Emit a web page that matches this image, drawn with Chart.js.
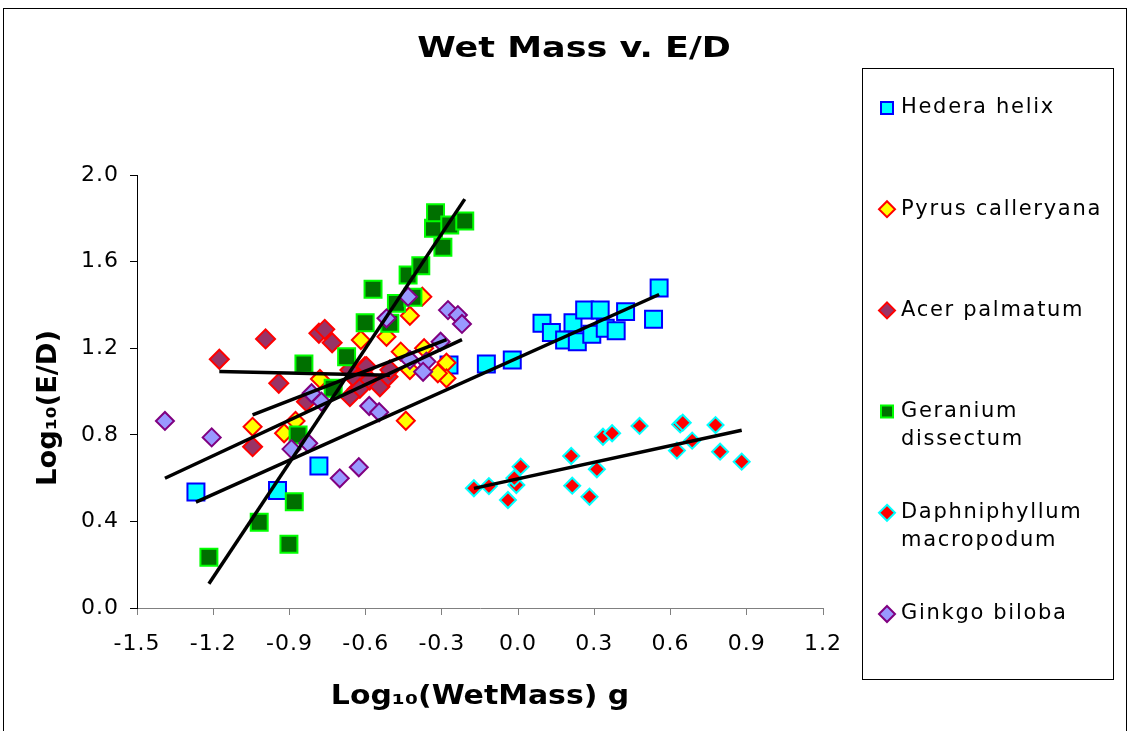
<!DOCTYPE html>
<html>
<head>
<meta charset="utf-8">
<script src="https://cdn.jsdelivr.net/npm/chart.js@4.4.1/dist/chart.umd.min.js"></script>
<style>
  html, body { margin: 0; padding: 0; background: #fff; overflow: hidden; }
  #frame { position: absolute; left: 3px; top: 8px; width: 1124px; height: 740px; border: 1px solid #000; box-sizing: border-box; }
  #c { position: absolute; left: 0; top: 0; }
</style>
</head>
<body>
<div id="frame"></div>
<canvas id="c" width="1134" height="731"></canvas>
<script>
// series names (legend order)
const seriesNames = ['Hedera helix', 'Pyrus calleryana', 'Acer palmatum',
                     'Geranium dissectum', 'Daphniphyllum macropodum', 'Ginkgo biloba'];

// log10(wet mass) / log10(E/D) values
const hederaX = [-1.268, -0.947, -0.784, -0.272, -0.125, -0.023, 0.094, 0.131, 0.183, 0.216,
                 0.233, 0.262, 0.323, 0.290, 0.343, 0.386, 0.423, 0.533, 0.555];
const hederaY = [0.536, 0.543, 0.656, 1.122, 1.127, 1.146, 1.315, 1.273, 1.238, 1.318,
                 1.230, 1.376, 1.376, 1.264, 1.292, 1.281, 1.369, 1.334, 1.478];

const pyrusX = [-1.045, -0.921, -0.876, -0.780, -0.619, -0.518, -0.462, -0.426, -0.377, -0.370,
                -0.426, -0.282, -0.282, -0.316, -0.442, -0.635];
const pyrusY = [0.837, 0.807, 0.864, 1.058, 1.238, 1.253, 1.184, 1.350, 1.438, 1.200,
                1.099, 1.133, 1.061, 1.084, 0.865, 1.011];

const acerX = [-1.176, -1.045, -0.994, -0.942, -0.833, -0.784, -0.761, -0.732, -0.662, -0.636,
               -0.623, -0.603, -0.597, -0.584, -0.544, -0.512, -0.505, -0.662];
const acerY = [1.149, 0.745, 1.243, 1.038, 0.953, 1.269, 1.287, 1.225, 1.099, 1.053,
               1.015, 1.115, 1.115, 1.053, 1.022, 1.068, 1.100, 0.976];

const geraniumX = [-1.217, -1.019, -0.902, -0.881, -0.866, -0.843, -0.728, -0.675, -0.602, -0.571,
                   -0.505, -0.479, -0.414, -0.433, -0.383, -0.296, -0.333, -0.325, -0.269, -0.210];
const geraniumY = [0.234, 0.396, 0.294, 0.491, 0.799, 1.127, 1.015, 1.161, 1.318, 1.472,
                   1.315, 1.407, 1.435, 1.538, 1.581, 1.666, 1.754, 1.826, 1.769, 1.788];

const daphX = [-0.174, -0.115, -0.040, -0.007, -0.015, 0.010, 0.209, 0.213, 0.281, 0.310,
               0.334, 0.370, 0.478, 0.625, 0.638, 0.648, 0.685, 0.777, 0.795, 0.880];
const daphY = [0.553, 0.563, 0.499, 0.568, 0.600, 0.653, 0.702, 0.565, 0.514, 0.641,
               0.791, 0.807, 0.841, 0.727, 0.848, 0.856, 0.773, 0.845, 0.722, 0.676];

const ginkgoX = [-1.390, -1.206, -0.892, -0.826, -0.813, -0.774, -0.702, -0.627, -0.586, -0.547,
                 -0.433, -0.518, -0.276, -0.237, -0.221, -0.305, -0.426, -0.361, -0.374];
const ginkgoY = [0.864, 0.788, 0.734, 0.761, 0.992, 0.953, 0.599, 0.650, 0.933, 0.904,
                 1.438, 1.338, 1.376, 1.353, 1.312, 1.230, 1.146, 1.138, 1.091];

// linear trendlines (slope, intercept)
const trendSlope = [0.526, 0.455, -0.025, 1.764, 0.2545, 0.548];
const trendIntercept = [1.156, 1.368, 1.0625, 2.259, 0.597, 1.361];

const xTicks = [-1.5, -1.2, -0.9, -0.6, -0.3, 0.0, 0.3, 0.6, 0.9, 1.2];
const yTicks = [0.0, 0.4, 0.8, 1.2, 1.6, 2.0];

const chartTitle = 'Wet Mass v. E/D';
const xTitle = 'Log₁₀(WetMass) g';
const yTitle = 'Log₁₀(E/D)';

const FONT = 'DejaVu Sans';
Chart.defaults.font.family = FONT;
Chart.defaults.color = '#000';

const xs = [hederaX, pyrusX, acerX, geraniumX, daphX, ginkgoX];
const ys = [hederaY, pyrusY, acerY, geraniumY, daphY, ginkgoY];
const styles = [
  { shape: 'rect',    r: 12,  fill: '#00FFFF', edge: '#0000FF' },
  { shape: 'rectRot', r: 9,   fill: '#FFFF00', edge: '#FF0000' },
  { shape: 'rectRot', r: 9.5, fill: '#993366', edge: '#FF0000' },
  { shape: 'rect',    r: 12,  fill: '#007000', edge: '#00FF00' },
  { shape: 'rectRot', r: 8,   fill: '#FF0000', edge: '#00FFFF' },
  { shape: 'rectRot', r: 9,   fill: '#9999FF', edge: '#800080' }
];

const datasets = [];
seriesNames.forEach((name, i) => {
  const pts = xs[i].map((x, j) => ({ x: x, y: ys[i][j] }));
  datasets.push({
    label: name,
    data: pts,
    pointStyle: styles[i].shape,
    pointRadius: styles[i].r,
    pointHoverRadius: styles[i].r,
    backgroundColor: styles[i].fill,
    borderColor: styles[i].edge,
    borderWidth: 2,
    order: 6 - i
  });
});
// trendlines across each series' x range
seriesNames.forEach((name, i) => {
  const lo = Math.min(...xs[i]), hi = Math.max(...xs[i]);
  datasets.push({
    label: name + ' trend',
    data: [lo, hi].map(x => ({ x: x, y: trendIntercept[i] + trendSlope[i] * x })),
    showLine: true,
    borderColor: '#000',
    borderWidth: 3.5,
    pointRadius: 0,
    pointHoverRadius: 0,
    fill: false,
    order: 0
  });
});

// text drawn a bit wider, like the stretched original
function wideText(ctx, text, x, y, font, sx, rotate) {
  ctx.save();
  ctx.translate(x, y);
  if (rotate) ctx.rotate(-Math.PI / 2);
  ctx.scale(sx, 1);
  ctx.font = font;
  ctx.fillStyle = '#000';
  ctx.textAlign = 'center';
  ctx.textBaseline = 'middle';
  ctx.fillText(text, 0, 0);
  ctx.restore();
}

const spacing = {
  id: 'spacing',
  beforeDraw(chart) { try { chart.ctx.letterSpacing = '1px'; } catch (e) {} },
  afterDraw(chart) { try { chart.ctx.letterSpacing = '0px'; } catch (e) {} }
};

// titles + legend box on the right, drawn by hand
const sideLegend = {
  id: 'sideLegend',
  afterDraw(chart) {
    const ctx = chart.ctx;
    const area = chart.chartArea;
    ctx.save();
    try { ctx.letterSpacing = '0px'; } catch (e) {}
    wideText(ctx, chartTitle, 574, 50, 'bold 28px "' + FONT + '"', 1.25, false);
    wideText(ctx, xTitle, (area.left + area.right) / 2, 697, 'bold 26px "' + FONT + '"', 1.15, false);
    wideText(ctx, yTitle, 49, 408, 'bold 26px "' + FONT + '"', 1.05, true);

    ctx.strokeStyle = '#000';
    ctx.lineWidth = 1;
    ctx.strokeRect(862.5, 68.5, 251, 611);
    ctx.font = '21px "' + FONT + '"';
    ctx.textBaseline = 'middle';
    ctx.textAlign = 'left';
    seriesNames.forEach((name, i) => {
      const y = 108 + i * 101.2;
      const st = styles[i];
      ctx.fillStyle = st.fill;
      ctx.strokeStyle = st.edge;
      ctx.lineWidth = 2;
      ctx.beginPath();
      if (st.shape === 'rect') {
        ctx.rect(881, y - 6, 12, 12);
      } else {
        ctx.moveTo(887, y - 8); ctx.lineTo(895, y); ctx.lineTo(887, y + 8); ctx.lineTo(879, y);
        ctx.closePath();
      }
      ctx.fill();
      ctx.stroke();
      const cut = name.indexOf(' ');
      const lines = name.length > 16 ? [name.slice(0, cut), name.slice(cut + 1)] : [name];
      ctx.fillStyle = '#000';
      try { ctx.letterSpacing = '1.7px'; } catch (e) {}
      lines.forEach((t, k) => ctx.fillText(t, 901, y + k * 28));
      try { ctx.letterSpacing = '0px'; } catch (e) {}
    });
    ctx.restore();
  }
};

new Chart(document.getElementById('c'), {
  type: 'scatter',
  data: { datasets: datasets },
  plugins: [spacing, sideLegend],
  options: {
    responsive: false,
    animation: false,
    events: [],
    layout: { padding: { left: 0, right: 311, top: 175, bottom: 0 } },
    plugins: {
      legend: { display: false },
      tooltip: { enabled: false },
      title: { display: false }
    },
    scales: {
      x: {
        type: 'linear',
        min: -1.5,
        max: 1.2,
        afterBuildTicks: axis => { axis.ticks = xTicks.map(v => ({ value: v })); },
        afterFit: s => { s.height = 123; },
        ticks: {
          callback: v => v.toFixed(1),
          font: { size: 22 },
          color: '#000',
          padding: 16,
          maxRotation: 0,
          autoSkip: false
        },
        grid: { drawOnChartArea: false, tickLength: 7, color: '#808080', tickColor: '#808080' },
        border: { display: true, color: '#808080', width: 1 },
        title: { display: false }
      },
      y: {
        type: 'linear',
        min: 0,
        max: 2,
        afterBuildTicks: axis => { axis.ticks = yTicks.map(v => ({ value: v })); },
        afterFit: s => { s.width = 137; },
        ticks: {
          callback: v => v.toFixed(1),
          font: { size: 22 },
          color: '#000',
          padding: 11
        },
        grid: { drawOnChartArea: false, tickLength: 7, color: '#000', tickColor: '#000' },
        border: { display: true, color: '#000', width: 1 },
        title: { display: false }
      }
    }
  }
});
</script>
</body>
</html>
